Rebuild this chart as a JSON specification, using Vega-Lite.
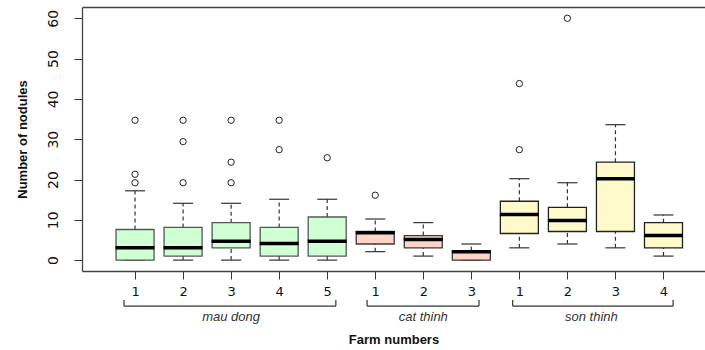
{
  "$schema": "https://vega.github.io/schema/vega-lite/v6.json",
  "autosize": {"type": "none"},
  "padding": {"left": 82, "top": 7, "right": 0, "bottom": 79},
  "width": 623,
  "height": 264,
  "background": "white",
  "config": {"view": {"stroke": null}},
  "datasets": {
    "boxes": [
      {"pos": 1, "farm": 1, "group": "mau dong", "lower": 0, "q1": 0, "median": 3.05, "q3": 7.6, "upper": 17.2},
      {"pos": 2, "farm": 2, "group": "mau dong", "lower": 0, "q1": 1.0, "median": 3.05, "q3": 8.1, "upper": 14.1},
      {"pos": 3, "farm": 3, "group": "mau dong", "lower": 0, "q1": 3.05, "median": 4.7, "q3": 9.3, "upper": 14.1},
      {"pos": 4, "farm": 4, "group": "mau dong", "lower": 0, "q1": 1.0, "median": 4.1, "q3": 8.1, "upper": 15.1},
      {"pos": 5, "farm": 5, "group": "mau dong", "lower": 0, "q1": 1.0, "median": 4.7, "q3": 10.7, "upper": 15.1},
      {"pos": 6, "farm": 1, "group": "cat thinh", "lower": 2.1, "q1": 4.0, "median": 6.8, "q3": 7.1, "upper": 10.2},
      {"pos": 7, "farm": 2, "group": "cat thinh", "lower": 1.0, "q1": 3.05, "median": 5.1, "q3": 6.1, "upper": 9.3},
      {"pos": 8, "farm": 3, "group": "cat thinh", "lower": 0, "q1": 0, "median": 2.06, "q3": 2.3, "upper": 4.0},
      {"pos": 9, "farm": 1, "group": "son thinh", "lower": 3.05, "q1": 6.6, "median": 11.3, "q3": 14.6, "upper": 20.2},
      {"pos": 10, "farm": 2, "group": "son thinh", "lower": 4.0, "q1": 7.1, "median": 9.8, "q3": 13.1, "upper": 19.2},
      {"pos": 11, "farm": 3, "group": "son thinh", "lower": 3.05, "q1": 7.1, "median": 20.2, "q3": 24.3, "upper": 33.6},
      {"pos": 12, "farm": 4, "group": "son thinh", "lower": 1.0, "q1": 3.05, "median": 6.1, "q3": 9.3, "upper": 11.2}
    ],
    "outliers": [
      {"pos": 1, "value": 34.7}, {"pos": 1, "value": 21.3}, {"pos": 1, "value": 19.2},
      {"pos": 2, "value": 34.7}, {"pos": 2, "value": 29.4}, {"pos": 2, "value": 19.2},
      {"pos": 3, "value": 34.7}, {"pos": 3, "value": 24.3}, {"pos": 3, "value": 19.2},
      {"pos": 4, "value": 34.7}, {"pos": 4, "value": 27.4},
      {"pos": 5, "value": 25.4},
      {"pos": 6, "value": 16.1},
      {"pos": 9, "value": 27.4}, {"pos": 9, "value": 43.8},
      {"pos": 10, "value": 60.0}
    ],
    "groups": [
      {"group": "mau dong", "start": 0.77, "end": 5.18, "mid": 3},
      {"group": "cat thinh", "start": 5.83, "end": 8.16, "mid": 7},
      {"group": "son thinh", "start": 8.86, "end": 12.2, "mid": 10.5}
    ]
  },
  "resolve": {"axis": {"x": "independent", "y": "independent"}},
  "layer": [
    {
      "data": {"name": "boxes"},
      "mark": {"type": "rule", "color": "#333", "strokeWidth": 1.2, "strokeDash": [4, 3]},
      "encoding": {
        "x": {"field": "pos", "type": "quantitative", "scale": {"domain": [0, 12.76], "nice": false, "zero": false}, "axis": null},
        "y": {"field": "q3", "type": "quantitative", "scale": {"domain": [-2.7, 62.8], "nice": false, "zero": false}, "axis": null},
        "y2": {"field": "upper"}
      }
    },
    {
      "data": {"name": "boxes"},
      "mark": {"type": "rule", "color": "#333", "strokeWidth": 1.2, "strokeDash": [4, 3]},
      "encoding": {
        "x": {"field": "pos", "type": "quantitative", "axis": null},
        "y": {"field": "lower", "type": "quantitative", "axis": null},
        "y2": {"field": "q1"}
      }
    },
    {
      "data": {"name": "boxes"},
      "mark": {"type": "tick", "orient": "horizontal", "size": 20, "thickness": 1.2, "color": "#333", "opacity": 1},
      "encoding": {
        "x": {"field": "pos", "type": "quantitative", "axis": null},
        "y": {"field": "upper", "type": "quantitative", "axis": null}
      }
    },
    {
      "data": {"name": "boxes"},
      "mark": {"type": "tick", "orient": "horizontal", "size": 20, "thickness": 1.2, "color": "#333", "opacity": 1},
      "encoding": {
        "x": {"field": "pos", "type": "quantitative", "axis": null},
        "y": {"field": "lower", "type": "quantitative", "axis": null}
      }
    },
    {
      "data": {"name": "boxes"},
      "mark": {"type": "bar", "orient": "vertical", "size": 38, "strokeWidth": 1.3, "opacity": 1},
      "encoding": {
        "x": {
          "field": "pos", "type": "quantitative",
          "axis": {
            "orient": "bottom",
            "values": [1, 2, 3, 4, 5, 6, 7, 8, 9, 10, 11, 12],
            "labelExpr": "datum.value <= 5 ? datum.value : (datum.value <= 8 ? datum.value - 5 : datum.value - 8)",
            "grid": false,
            "tickSize": 8,
            "tickColor": "#333",
            "domainColor": "#444",
            "domainWidth": 1.3,
            "labelFont": "DejaVu Sans",
            "labelFontSize": 13,
            "labelColor": "#111",
            "labelBaseline": "middle",
            "labelPadding": 12,
            "labelFlush": false,
            "labelOverlap": false,
            "title": "Farm numbers",
            "titleFont": "Liberation Sans",
            "titleFontWeight": "bold",
            "titleFontSize": 13,
            "titleColor": "#111",
            "titleY": 68,
            "titleBaseline": "middle"
          }
        },
        "y": {
          "field": "q1", "type": "quantitative",
          "axis": {
            "values": [0, 10, 20, 30, 40, 50, 60],
            "grid": false,
            "tickSize": 8,
            "tickColor": "#333",
            "domainColor": "#444",
            "domainWidth": 1.3,
            "labelAngle": 270,
            "labelAlign": "center",
            "labelBaseline": "middle",
            "labelPadding": 21,
            "labelFont": "DejaVu Sans",
            "labelFontSize": 14,
            "labelColor": "#111",
            "title": "Number of nodules",
            "titleFont": "Liberation Sans",
            "titleFontWeight": "bold",
            "titleFontSize": 13,
            "titleColor": "#111",
            "titleAngle": 270,
            "titleX": -60,
            "titleBaseline": "middle"
          }
        },
        "y2": {"field": "q3"},
        "fill": {"field": "group", "type": "nominal", "scale": {"domain": ["mau dong", "cat thinh", "son thinh"], "range": ["#D1FFD4", "#FFD4C8", "#FFFACC"]}, "legend": null},
        "stroke": {"field": "group", "type": "nominal", "scale": {"domain": ["mau dong", "cat thinh", "son thinh"], "range": ["#555555", "#3a3a3a", "#222222"]}, "legend": null}
      }
    },
    {
      "data": {"name": "boxes"},
      "mark": {"type": "tick", "orient": "horizontal", "size": 39, "thickness": 3.5, "color": "black", "opacity": 1},
      "encoding": {
        "x": {"field": "pos", "type": "quantitative", "axis": null},
        "y": {"field": "median", "type": "quantitative", "axis": null}
      }
    },
    {
      "data": {"name": "outliers"},
      "mark": {"type": "point", "filled": false, "size": 40, "stroke": "#222", "strokeWidth": 1, "opacity": 1},
      "encoding": {
        "x": {"field": "pos", "type": "quantitative", "axis": {"orient": "top", "labels": false, "ticks": false, "title": null, "grid": false, "domainColor": "#444", "domainWidth": 1.3}},
        "y": {"field": "value", "type": "quantitative", "axis": null}
      }
    },
    {
      "data": {"name": "groups"},
      "mark": {"type": "rule", "color": "#333", "strokeWidth": 1.2},
      "encoding": {
        "x": {"field": "start", "type": "quantitative", "axis": null},
        "x2": {"field": "end"},
        "y": {"datum": -11.4, "type": "quantitative", "axis": null}
      }
    },
    {
      "data": {"name": "groups"},
      "mark": {"type": "rule", "color": "#333", "strokeWidth": 1.2},
      "encoding": {
        "x": {"field": "start", "type": "quantitative", "axis": null},
        "y": {"datum": -9.9, "type": "quantitative", "axis": null},
        "y2": {"datum": -11.4}
      }
    },
    {
      "data": {"name": "groups"},
      "mark": {"type": "rule", "color": "#333", "strokeWidth": 1.2},
      "encoding": {
        "x": {"field": "end", "type": "quantitative", "axis": null},
        "y": {"datum": -9.9, "type": "quantitative", "axis": null},
        "y2": {"datum": -11.4}
      }
    },
    {
      "data": {"name": "groups"},
      "mark": {"type": "text", "font": "Liberation Sans", "fontStyle": "italic", "fontSize": 13, "color": "#333", "baseline": "middle", "align": "center"},
      "encoding": {
        "x": {"field": "mid", "type": "quantitative", "axis": null},
        "y": {"datum": -14.1, "type": "quantitative", "axis": null},
        "text": {"field": "group"}
      }
    }
  ]
}
